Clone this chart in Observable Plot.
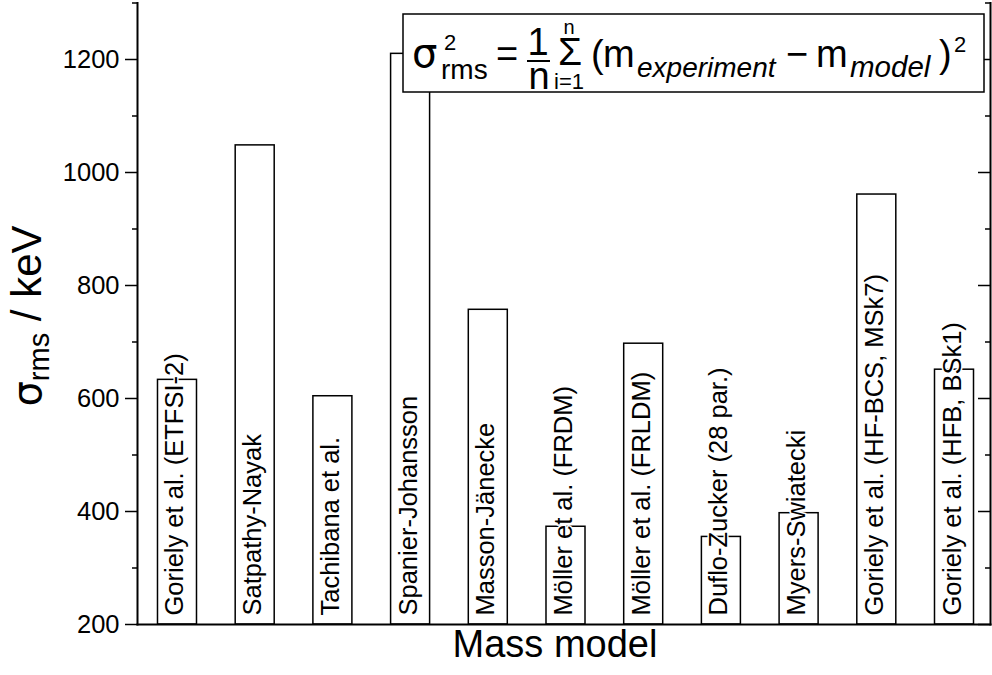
<!DOCTYPE html>
<html>
<head>
<meta charset="utf-8">
<script src="https://cdn.jsdelivr.net/npm/d3@7"></script>
<script src="https://cdn.jsdelivr.net/npm/@observablehq/plot@0.6"></script>
<style>
  html, body { margin: 0; padding: 0; background: #fff; }
  #chart svg { display: block; }
</style>
</head>
<body>
<div id="chart"></div>
<script>
// ---- data ----
const models = [
  "Goriely et al. (ETFSI-2)",
  "Satpathy-Nayak",
  "Tachibana et al.",
  "Spanier-Johansson",
  "Masson-Jänecke",
  "Möller et al. (FRDM)",
  "Möller et al. (FRLDM)",
  "Duflo-Zucker (28 par.)",
  "Myers-Swiatecki",
  "Goriely et al. (HF-BCS, MSk7)",
  "Goriely et al. (HFB, BSk1)"
];
const rmsValues = [633, 1048, 604, 1210, 757, 373, 697, 355, 397, 961, 651];
const majorTicks = [200, 400, 600, 800, 1000, 1200];
const minorTicks = [300, 500, 700, 900, 1100, 1300];
const yDomain = [200, 1300];
const xTitle = "Mass model";

const data = models.map((m, i) => ({model: m, rms: rmsValues[i]}));

const W = 992, H = 675;
const mL = 137, mR = 2, mT = 2.5, mB = 51;
const frameW = W - mL - mR;
const font = "'Liberation Sans', Arial, Helvetica, sans-serif";
const greek = "'DejaVu Sans', 'Liberation Sans', sans-serif";

const chart = Plot.plot({
  width: W,
  height: H,
  marginLeft: mL,
  marginRight: mR,
  marginTop: mT,
  marginBottom: mB,
  style: {fontFamily: font, fontSize: "25px", color: "black", background: "white", overflow: "visible"},
  x: {domain: models, paddingInner: 0.498, paddingOuter: 0.238, align: 0.554, round: false, axis: null},
  y: {domain: yDomain, axis: null},
  marks: [
    Plot.barY(data, {x: "model", y1: yDomain[0], y2: "rms", fill: "white", stroke: "black", strokeWidth: 1.5}),
    Plot.text(data, {
      x: "model", text: "model", frameAnchor: "bottom", dy: -9, dx: 6, rotate: -90,
      textAnchor: "start", fontSize: 25.5, fill: "black", stroke: "white", strokeWidth: 3
    }),
    Plot.axisY({anchor: "left", ticks: majorTicks, tickSize: 12, tickPadding: 6,
      tickFormat: d => String(d), label: null, fontSize: 25.5, strokeWidth: 1.5}),
    Plot.axisY({anchor: "left", ticks: minorTicks, tickSize: 5, tickFormat: () => "", label: null, strokeWidth: 1.5}),
    Plot.ruleY(majorTicks, {insetLeft: frameW - 12, strokeWidth: 1.5}),
    Plot.ruleY(minorTicks, {insetLeft: frameW - 5, strokeWidth: 1.5}),
    Plot.frame({anchor: "left", strokeWidth: 2}),
    Plot.frame({anchor: "right", strokeWidth: 2}),
    Plot.frame({anchor: "bottom", strokeWidth: 2}),
    Plot.text([xTitle], {text: d => d, frameAnchor: "bottom", dy: 32, dx: -9, fontSize: 38, fill: "black"})
  ]
});

document.getElementById("chart").appendChild(chart);

// ---- annotations: y-axis title and formula box ----
const svg = d3.select(chart);

const yt = svg.append("text")
  .attr("transform", "translate(41,316) rotate(-90)")
  .attr("text-anchor", "middle")
  .attr("font-family", font)
  .attr("font-size", 42)
  .attr("fill", "black");
yt.append("tspan").attr("font-family", greek).attr("font-size", 40).text("σ");
yt.append("tspan").attr("font-size", 29).attr("dy", 8).text("rms");
yt.append("tspan").attr("dy", -8).text(" / keV");

const g = svg.append("g").attr("font-family", font).attr("fill", "black").attr("text-anchor", "start");
g.append("rect").attr("x", 403).attr("y", 14).attr("width", 581).attr("height", 78)
  .attr("fill", "white").attr("stroke", "black").attr("stroke-width", 1.5);

function t(x, y, size, str, opts = {}) {
  const e = g.append("text").attr("x", x).attr("y", y).attr("font-size", size)
    .attr("text-anchor", opts.anchor || "start").text(str);
  if (opts.italic) e.attr("font-style", "italic");
  if (opts.family) e.attr("font-family", opts.family);
  return e;
}
t(412, 67, 40, "σ", {family: greek});
t(444, 50, 22, "2");
t(441, 79, 28, "rms");
t(496, 67, 38, "=");
t(538, 55, 38, "1", {anchor: "middle"});
g.append("line").attr("x1", 527).attr("x2", 550).attr("y1", 61).attr("y2", 61)
  .attr("stroke", "black").attr("stroke-width", 2);
t(539, 89, 38, "n", {anchor: "middle"});
t(570, 65, 39, "Σ", {anchor: "middle"});
t(569, 34, 20, "n", {anchor: "middle"});
t(569, 89, 22, "i=1", {anchor: "middle"});
t(591, 67, 38, "(");
t(603, 67, 38, "m");
t(637, 77, 28, "experiment", {italic: true});
t(786, 67, 38, "−");
t(816, 67, 38, "m");
t(850, 77, 29.5, "model", {italic: true});
t(939, 67, 38, ")");
t(954, 52, 22, "2");
</script>
</body>
</html>
